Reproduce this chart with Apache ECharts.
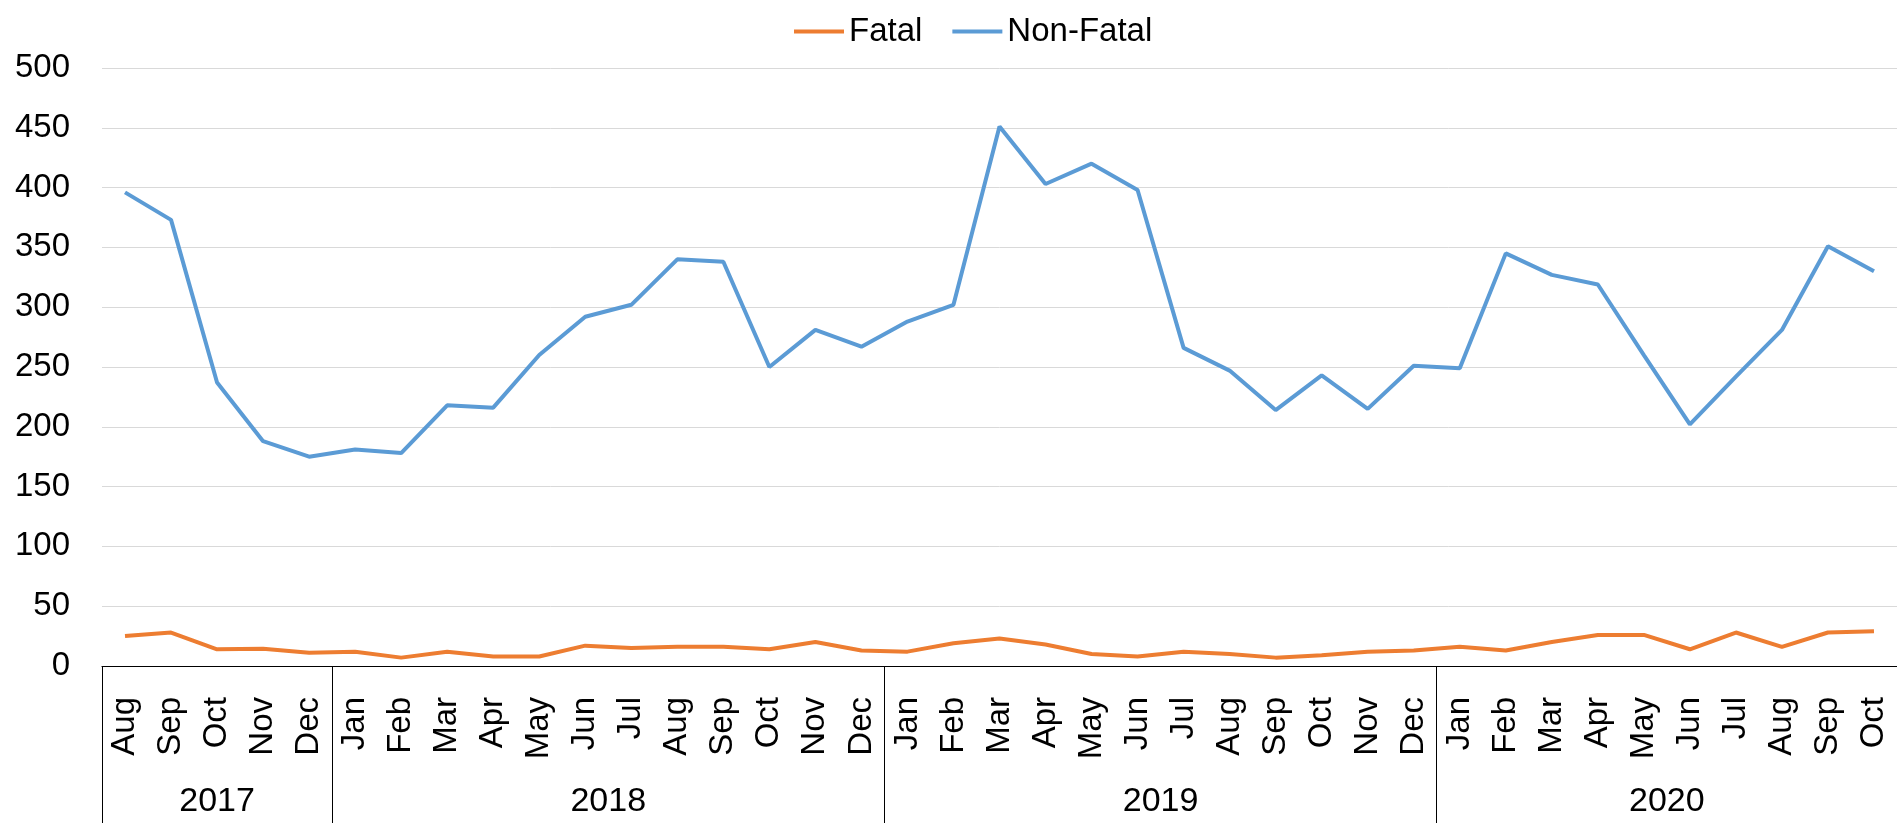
<!DOCTYPE html>
<html>
<head>
<meta charset="utf-8">
<script src="https://cdn.jsdelivr.net/npm/echarts@6/dist/echarts.min.js"></script>
<style>
html,body{margin:0;padding:0;background:#fff;}
#chart{width:1897px;height:823px;}
</style>
</head>
<body>
<div id="chart"></div>
<script>
const months = ['Aug','Sep','Oct','Nov','Dec',
  'Jan','Feb','Mar','Apr','May','Jun','Jul','Aug','Sep','Oct','Nov','Dec',
  'Jan','Feb','Mar','Apr','May','Jun','Jul','Aug','Sep','Oct','Nov','Dec',
  'Jan','Feb','Mar','Apr','May','Jun','Jul','Aug','Sep','Oct'];
const years = ['2017','2018','2019','2020'];
const yearMonthCounts = [5, 12, 12, 10];
const fatal = [25, 28, 14, 14.5, 11,
  12, 7, 12, 8, 8, 17, 15, 16, 16, 14, 20, 13,
  12, 19, 23, 18, 10, 8, 12, 10, 7, 9, 12, 13,
  16, 13, 20, 26, 26, 14, 28, 16, 28, 29];
const nonFatal = [396, 373, 237, 188, 175,
  181, 178, 218, 216, 260, 292, 302, 340, 338, 250, 281, 267,
  288, 302, 451, 403, 420, 398, 266, 247, 214, 243, 215, 251,
  249, 345, 327, 319, 260, 202, 242, 281, 351, 330];
const yTicks = [0, 50, 100, 150, 200, 250, 300, 350, 400, 450, 500];

// group boundaries and centres (in category units) derived from counts
const bounds = [0];
yearMonthCounts.forEach(c => bounds.push(bounds[bounds.length - 1] + c));
const centres = yearMonthCounts.map((c, i) => bounds[i] + c / 2);

const FONT = "'Liberation Sans', Arial, sans-serif";
const chart = echarts.init(document.getElementById('chart'));
chart.setOption({
  animation: false,
  backgroundColor: '#fff',
  legend: {
    left: 789,
    top: 10,
    icon: 'rect',
    itemWidth: 50,
    itemHeight: 4,
    itemGap: 30,
    textStyle: { fontFamily: FONT, fontSize: 33, color: '#000' },
    data: ['Fatal', 'Non-Fatal']
  },
  grid: { left: 102, top: 68, width: 1804, bottom: 157 },
  xAxis: [
    {
      type: 'category',
      data: months,
      boundaryGap: true,
      position: 'bottom',
      axisLine: { show: true, lineStyle: { color: '#000', width: 1.2 } },
      axisTick: { show: false },
      axisLabel: {
        interval: 0, rotate: 90, margin: 31,
        fontFamily: FONT, fontSize: 33, color: '#000'
      },
      splitLine: { show: false }
    },
    {
      type: 'value',
      min: 0,
      max: bounds[bounds.length - 1],
      position: 'bottom',
      axisLine: { show: false },
      splitLine: { show: false },
      axisTick: {
        show: true, inside: false, length: 160,
        customValues: bounds,
        lineStyle: { color: '#000', width: 1 }
      },
      axisLabel: {
        customValues: centres,
        margin: 119,
        formatter: function (v) {
          const i = centres.indexOf(v);
          return i >= 0 ? years[i] : '';
        },
        fontFamily: FONT, fontSize: 34, color: '#000'
      }
    }
  ],
  yAxis: {
    type: 'value',
    min: yTicks[0],
    max: yTicks[yTicks.length - 1],
    interval: yTicks[1] - yTicks[0],
    axisLine: { show: false },
    axisTick: { show: false },
    axisLabel: { margin: 32, fontFamily: FONT, fontSize: 33, color: '#000' },
    splitLine: { lineStyle: { color: '#d9d9d9', width: 1 } }
  },
  series: [
    {
      name: 'Fatal', type: 'line', data: fatal, xAxisIndex: 0,
      symbol: 'none', color: '#ED7D31',
      lineStyle: { color: '#ED7D31', width: 4 }
    },
    {
      name: 'Non-Fatal', type: 'line', data: nonFatal, xAxisIndex: 0,
      symbol: 'none', color: '#5B9BD5',
      lineStyle: { color: '#5B9BD5', width: 4 }
    }
  ]
});
</script>
</body>
</html>
